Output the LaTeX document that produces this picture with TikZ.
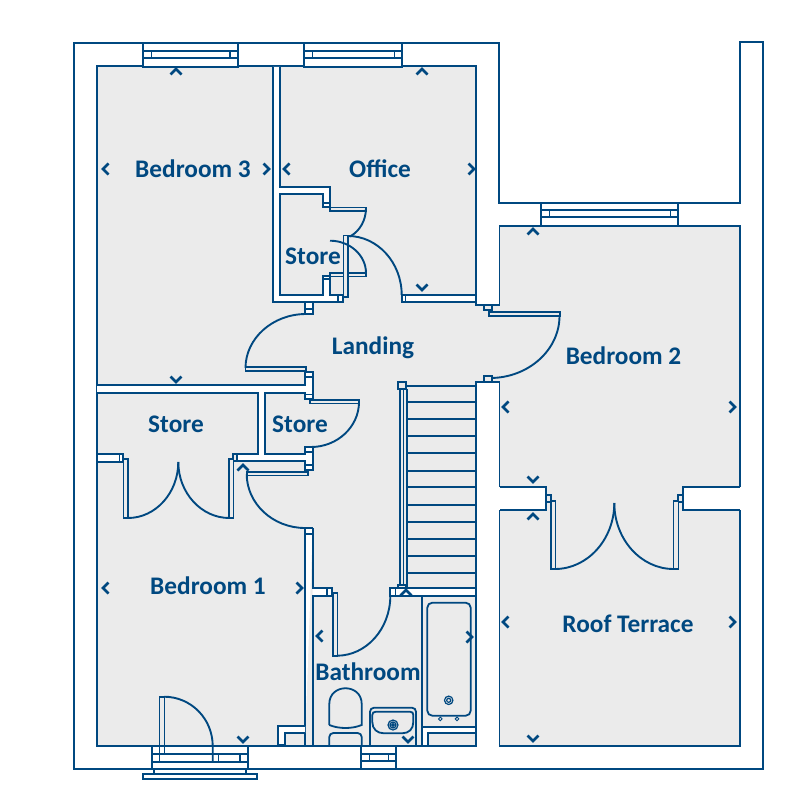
\documentclass[tikz,border=0pt]{standalone}
\usepackage{fontspec}
\setmainfont{Carlito}
\definecolor{planblue}{RGB}{0,72,128}
\definecolor{floorgrey}{RGB}{235,235,235}
\newcommand{\qhv}[4]{\draw[doorarc] (#1,#2) .. controls ({#1+.55*(#3-#1)},#2) and (#3,{#4-.55*(#4-#2)}) .. (#3,#4);}
\newcommand{\chevU}[2]{\draw[chev] (#1-5.5,#2+3.5) -- (#1,#2-2) -- (#1+5.5,#2+3.5);}
\newcommand{\chevD}[2]{\draw[chev] (#1-5.5,#2-3.5) -- (#1,#2+2) -- (#1+5.5,#2-3.5);}
\newcommand{\chevL}[2]{\draw[chev] (#1+3.5,#2-5.5) -- (#1-2,#2) -- (#1+3.5,#2+5.5);}
\newcommand{\chevR}[2]{\draw[chev] (#1-3.5,#2-5.5) -- (#1+2,#2) -- (#1-3.5,#2+5.5);}
\tikzset{
  wall/.style={draw=planblue,line width=1.9pt,fill=white,line join=miter},
  ln/.style={draw=planblue,line width=1.9pt},
  thin/.style={draw=planblue,line width=1.4pt},
  tap/.style={draw=planblue,line width=0.9pt},
  leaf/.style={draw=planblue,line width=1.6pt,fill=floorgrey},
  doorarc/.style={draw=planblue,line width=1.9pt},
  chev/.style={draw=planblue,line width=2.6pt},
  fixture/.style={draw=planblue,line width=1.8pt},
  room/.style={text=planblue,font=\fontsize{25.3}{26}\selectfont\bfseries,inner sep=0pt}
}
\begin{document}
\begin{tikzpicture}[x=1pt,y=-1pt]
\useasboundingbox (0,0) rectangle (800,800);
\fill[white] (0,0) rectangle (800,800);
% outer wall
\draw[wall] (74,43) -- (499,43) -- (499,202.7) -- (740,202.7) -- (740,42) -- (763,42) -- (763,769) -- (74,769) -- cycle;
% floor
\draw[ln,fill=floorgrey] (97,66) -- (476,66) -- (476,305) -- (499.5,305) -- (499.5,225.7) -- (740,225.7) -- (740,746) -- (499.5,746) -- (499.5,381.7) -- (476,381.7) -- (476,746) -- (97,746) -- cycle;
% stairs
\foreach \yy in {401.7,419,436,453.3,470.7,487.3,505,521.7,539,556,573.3}{\draw[ln] (407,\yy) -- (476,\yy);}
\draw[ln] (407,386) -- (476,386);
\draw[ln] (400,389) -- (400,585);
\draw[thin] (403.5,389) -- (403.5,585);
\draw[ln] (407,389) -- (407,588);
\draw[wall,fill=floorgrey] (397.7,381.7) rectangle (405.7,389.3);
\draw[wall,fill=floorgrey] (398.3,585) rectangle (405.7,588.3);
% wall bed3/office + store
\draw[wall] (273,67) -- (273,302) -- (343,302) -- (343,295) -- (330,295) -- (330,276) -- (323,276) -- (323,295) -- (280,295) -- (280,194) -- (323,194) -- (323,207) -- (330,207) -- (330,187) -- (280,187) -- (280,67);
\draw[thin] (323,203) -- (330,203) (323,279) -- (330,279) (337.7,295) -- (337.7,302);
% store doors
\draw[leaf] (330,207.5) rectangle (366,211);
\draw[leaf] (330,273) rectangle (366,276.5);
\draw[leaf] (343.3,235.5) rectangle (348.2,297);
\draw[wall] (343.3,295) rectangle (338,302);
\qhv{330}{240.7}{366}{273}
\draw[doorarc] (366,208) .. controls (366,220) and (360,231) .. (350,236.5);
\qhv{348}{236}{401.7}{295}
% office lower wall
\draw[wall] (401.7,295) rectangle (476,302);
\draw[thin] (405.7,295) -- (405.7,302);
% door bed 3/landing
\draw[wall] (305,302) rectangle (312.7,314);
\draw[thin] (305,309) -- (312.7,309);
\draw[leaf] (245.5,367) rectangle (306,371);
\qhv{306}{314}{245.5}{368}
% wall bed3/stores
\draw[wall] (97,385) -- (305,385) -- (305,372) -- (312.7,372) -- (312.7,399) -- (305,399) -- (305,392.7) -- (265,392.7) -- (265,454) -- (305,454) -- (305,447) -- (312.7,447) -- (312.7,470) -- (305,470) -- (305,460.7) -- (237,460.7) -- (237,454) -- (258.3,454) -- (258.3,392.7) -- (97,392.7);
\draw[thin] (305,377) -- (312.7,377) (305,394.5) -- (312.7,394.5) (305,452) -- (312.7,452) (305,465) -- (312.7,465);
\draw[leaf] (310,400) rectangle (359,403.5);
\qhv{311}{447}{359}{402}
% store double doors
\draw[wall] (97,454) rectangle (123,461.7);
\draw[thin] (119.5,454) -- (119.5,461.7);
\draw[thin] (237,454) -- (233,454) -- (233,459) (233.5,461) -- (237,461);
\draw[leaf] (123.3,458.7) rectangle (128,518);
\draw[leaf] (229,458.7) rectangle (233.3,518);
\qhv{128}{518}{178.3}{462}
\qhv{229.3}{518}{178.3}{462}
% bed1 door
\draw[leaf] (246.7,472) rectangle (308,475.5);
\qhv{305}{528}{246.7}{474}
% wall bed1/bathroom
\draw[wall] (312.7,528) -- (305,528) -- (305,745) (312.7,745) -- (312.7,595.7) -- (331.7,595.7) -- (331.7,588.3) -- (312.7,588.3) -- (312.7,528);
\draw[thin] (305,534) -- (312.7,534) (327,588.3) -- (327,595.7);
% bathroom door
\draw[leaf] (332.7,593) rectangle (337.3,655.7);
\qhv{337}{655.7}{390.3}{596}
\draw[wall] (390.3,588.3) rectangle (476,595.7);
\draw[thin] (395.7,588.3) -- (395.7,595.7);
\draw[ln] (421.7,595.7) -- (421.7,746);
% bath and fixtures
\draw[fixture,rounded corners=5pt] (427.3,602.7) rectangle (470.7,715.7);
\draw[tap] (440.3,718.9) circle (1.8) (457,718.9) circle (1.8);
\draw[fixture,line width=1.2pt] (448.7,700.3) circle (4.2) circle (2);
\draw[wall] (421.7,745) -- (421.7,726.7) -- (476,726.7) -- (476,732.7) -- (428.3,732.7) -- (428.3,745);
\draw[wall] (305,726) -- (278.3,726) -- (278.3,745) -- (285,745) -- (285,733) -- (305,733);
% toilet
\draw[fixture] (329.3,725) -- (329.3,704) .. controls (329.3,683) and (361.7,683) .. (361.7,704) -- (361.7,725) .. controls (352,729) and (339,729) .. (329.3,725);
\draw[fixture,rounded corners=4pt] (329.3,746) -- (329.3,733) -- (361.7,733) -- (361.7,746);
% basin
\draw[fixture,rounded corners=4pt] (370,746) -- (370,707.7) -- (416,707.7) -- (416,746);
\draw[fixture] (376,711.7) -- (410,711.7) .. controls (412.5,711.7) and (413.3,713) .. (413.3,715) -- (413.3,722) .. controls (413.3,729) and (409,733.3) .. (402,733.3) -- (384,733.3) .. controls (377,733.3) and (372.3,729) .. (372.3,722) -- (372.3,715) .. controls (372.3,713) and (373.5,711.7) .. (376,711.7);
\draw[fixture,line width=1.2pt] (393,725) circle (5) circle (3) circle (1.2);
% bed 2 door
\draw[wall,fill=floorgrey] (484,305) rectangle (491.7,310.3);
\draw[leaf] (489,311.7) rectangle (560,316);
\qhv{490}{378}{559.5}{316}
\draw[wall,fill=floorgrey] (484,376) rectangle (491.7,381.7);
% bed 2 / roof terrace walls
\fill[white] (498,486.7) rectangle (546,510);
\fill[white] (741.5,486.7) rectangle (683.3,510);
\draw[wall,fill=none] (499.5,486.7) -- (546,486.7) -- (546,510) -- (499.5,510);
\draw[wall,fill=none] (740,486.7) -- (683.3,486.7) -- (683.3,510) -- (740,510);
\draw[wall,fill=floorgrey] (546,495) rectangle (551,502.3);
\draw[wall,fill=floorgrey] (678.3,495) rectangle (683.3,502.3);
\draw[leaf] (551,500.7) rectangle (555.3,569);
\draw[leaf] (673.5,500.7) rectangle (678.3,569);
\qhv{555}{569}{614.3}{503}
\qhv{673.5}{569}{614.3}{503}
% windows
\draw[wall] (143.3,43.3) rectangle (238.3,66.7);
\draw[ln] (143.3,50.7) -- (238.3,50.7) (143.3,57.7) -- (238.3,57.7);
\draw[thin] (151.7,50.7) -- (151.7,57.7) (230,50.7) -- (230,57.7);
\draw[wall] (304,43.3) rectangle (402.3,66.7);
\draw[ln] (304,50.7) -- (402.3,50.7) (304,57.7) -- (402.3,57.7);
\draw[thin] (312.7,50.7) -- (312.7,57.7) (394.3,50.7) -- (394.3,57.7);
\draw[wall] (541,202.7) rectangle (678.3,225.7);
\draw[ln] (541,210) -- (678.3,210) (541,217.3) -- (678.3,217.3);
\draw[thin] (549.3,210) -- (549.3,217.3) (670.7,210) -- (670.7,217.3);
% bottom window, bed 1
\draw[wall] (151.7,746) rectangle (248.3,769);
\draw[ln] (151.7,754) -- (248.3,754) (151.7,761.7) -- (248.3,761.7);
\draw[thin] (159.3,754) -- (159.3,761.7) (218.3,754) -- (218.3,761.7) (240,754) -- (240,761.7);
\draw[wall] (154.3,769) rectangle (245.7,774);
\draw[wall] (142.7,774) rectangle (257.3,779);
\draw[leaf,fill=floorgrey] (159.3,696.7) rectangle (164.3,746);
\draw[thin] (159.3,746) -- (159.3,761.7) (164.3,746) -- (164.3,754);
\draw[doorarc] (164,696.7) .. controls (191,696.7) and (212.7,718.7) .. (212.7,746) -- (212.7,761.7);
% bottom window, bathroom
\draw[wall] (361,746) rectangle (396,769);
\draw[ln] (361,754.3) -- (396,754.3) (361,761) -- (396,761);
\draw[thin] (369.3,754.3) -- (369.3,761) (388.3,754.3) -- (388.3,761);
\draw[ln] (97,746) -- (476,746);
% chevrons
\chevU{176}{71}\chevU{422}{71}\chevU{533}{231}\chevU{533}{516}\chevU{406}{592}\chevU{243}{467}
\chevD{176}{380}\chevD{422}{288}\chevD{533}{480}\chevD{533}{739}\chevD{243}{740}\chevD{408}{740}
\chevL{105}{169}\chevL{286}{169}\chevL{505}{407}\chevL{505}{622}\chevL{105}{588}\chevL{319}{636}
\chevR{267}{169}\chevR{472}{169}\chevR{733}{407}\chevR{733}{622}\chevR{300}{588}\chevR{470}{637}
% labels
\node[room] (bed3) at (193,168.5) {Bedroom 3};
\node[room] (office) at (380,168.5) {Office};
\node[room] (storeA) at (313,256.5) {Store};
\node[room] (landing) at (373,348) {Landing};
\node[room] (bed2) at (623.5,355.5) {Bedroom 2};
\node[room] (storeB) at (176,424.5) {Store};
\node[room] (storeC) at (300,424.5) {Store};
\node[room] (bed1) at (208,585.5) {Bedroom 1};
\node[room] (terrace) at (628,623.5) {Roof Terrace};
\node[room] (bath) at (368,671.5) {Bathroom};
\end{tikzpicture}
\end{document}
